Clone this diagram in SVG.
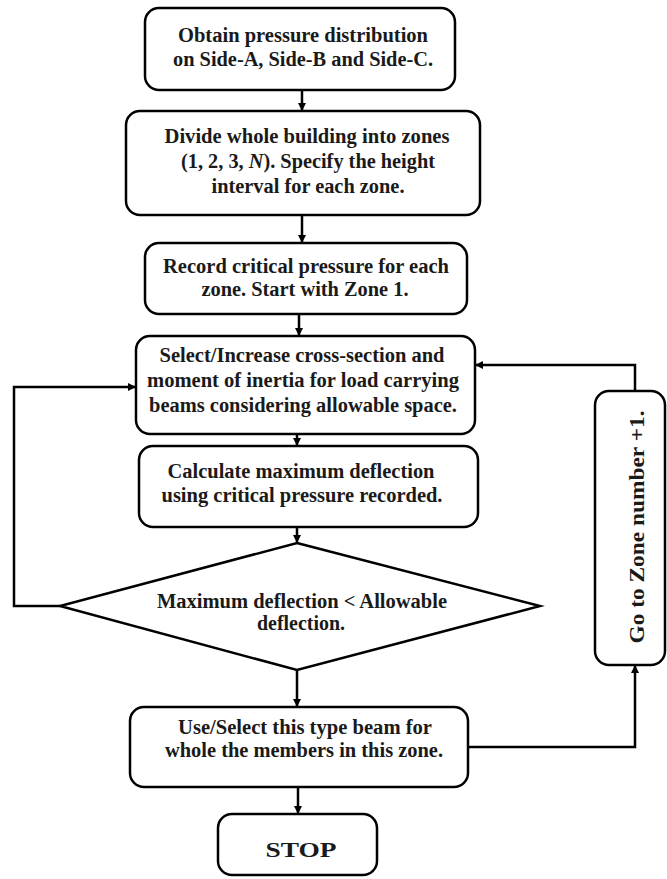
<svg xmlns="http://www.w3.org/2000/svg" width="667" height="879" viewBox="0 0 667 879">
<style>
.box{fill:#fff;stroke:#000;stroke-width:2.5}
.t{font-family:"Liberation Serif","Times New Roman",serif;font-weight:bold;font-size:20px;fill:#1a1a1a;text-anchor:middle}
.c{fill:none;stroke:#000;stroke-width:2.5}
</style>
<defs>
<marker id="ah" viewBox="0 0 8 8" refX="8" refY="4" markerWidth="8" markerHeight="8" markerUnits="userSpaceOnUse" orient="auto"><path d="M0,0 L8,4 L0,8 z" fill="#000"/></marker>
</defs>
<rect width="667" height="879" fill="#fff"/>
<g id="connectors">
<path class="c" d="M302,90 V111" marker-end="url(#ah)"/>
<path class="c" d="M302,215 V243" marker-end="url(#ah)"/>
<path class="c" d="M299,314 V336" marker-end="url(#ah)"/>
<path class="c" d="M297,434 V446" marker-end="url(#ah)"/>
<path class="c" d="M297,527 V543" marker-end="url(#ah)"/>
<path class="c" d="M297,670 V707" marker-end="url(#ah)"/>
<path class="c" d="M298,787 V814" marker-end="url(#ah)"/>
<path class="c" d="M60,606 H14 V387 H136" marker-end="url(#ah)"/>
<path class="c" d="M468,747 H635 V665" marker-end="url(#ah)"/>
<path class="c" d="M635,391 V365 H475" marker-end="url(#ah)"/>
</g>
<g id="n1">
<rect class="box" x="145" y="8" width="310" height="82" rx="14"/>
<text class="t" x="303" y="42" textLength="250" lengthAdjust="spacingAndGlyphs">Obtain pressure distribution</text>
<text class="t" x="303" y="66" textLength="260" lengthAdjust="spacingAndGlyphs">on Side-A, Side-B and Side-C.</text>
</g>
<g id="n2">
<rect class="box" x="126" y="111" width="354" height="104" rx="14"/>
<text class="t" x="307" y="143" textLength="285" lengthAdjust="spacingAndGlyphs">Divide whole building into zones</text>
<text class="t" x="308" y="168" textLength="254" lengthAdjust="spacingAndGlyphs">(1, 2, 3, <tspan font-style="italic">N</tspan>). Specify the height</text>
<text class="t" x="308" y="193" textLength="193" lengthAdjust="spacingAndGlyphs">interval for each zone.</text>
</g>
<g id="n3">
<rect class="box" x="145" y="243" width="322" height="71" rx="14"/>
<text class="t" x="306" y="273" font-size="21" textLength="286" lengthAdjust="spacingAndGlyphs">Record critical pressure for each</text>
<text class="t" x="305" y="296" font-size="21" textLength="207" lengthAdjust="spacingAndGlyphs">zone. Start with Zone 1.</text>
</g>
<g id="n4">
<rect class="box" x="136" y="336" width="339" height="98" rx="14"/>
<text class="t" x="302" y="362" font-size="21" textLength="285" lengthAdjust="spacingAndGlyphs">Select/Increase cross-section and</text>
<text class="t" x="303" y="387" font-size="21" textLength="312" lengthAdjust="spacingAndGlyphs">moment of inertia for load carrying</text>
<text class="t" x="303" y="412" font-size="21" textLength="308" lengthAdjust="spacingAndGlyphs">beams considering allowable space.</text>
</g>
<g id="n5">
<rect class="box" x="139" y="446" width="339" height="81" rx="14"/>
<text class="t" x="301" y="478" font-size="21" textLength="267" lengthAdjust="spacingAndGlyphs">Calculate maximum deflection</text>
<text class="t" x="302" y="502" font-size="21" textLength="281" lengthAdjust="spacingAndGlyphs">using critical pressure recorded.</text>
</g>
<g id="n6">
<polygon class="box" points="297,543 540,606 297,670 60,606"/>
<text class="t" x="302" y="608" font-size="21" textLength="290" lengthAdjust="spacingAndGlyphs">Maximum deflection &lt; Allowable</text>
<text class="t" x="301" y="630" font-size="21" textLength="88" lengthAdjust="spacingAndGlyphs">deflection.</text>
</g>
<g id="n7">
<rect class="box" x="130" y="707" width="338" height="80" rx="14"/>
<text class="t" x="305" y="734" textLength="254" lengthAdjust="spacingAndGlyphs">Use/Select this type beam for</text>
<text class="t" x="304" y="757" textLength="278" lengthAdjust="spacingAndGlyphs">whole the members in this zone.</text>
</g>
<g id="n8">
<rect class="box" x="218" y="814" width="159" height="61" rx="14"/>
<text class="t" x="301" y="857" font-size="24" textLength="71" lengthAdjust="spacingAndGlyphs">STOP</text>
</g>
<g id="n9">
<rect class="box" x="595" y="391" width="70" height="274" rx="14"/>
<text class="t" transform="translate(644,527) rotate(-90)" x="0" y="0" textLength="233" lengthAdjust="spacingAndGlyphs">Go to Zone number +1.</text>
</g>
</svg>
